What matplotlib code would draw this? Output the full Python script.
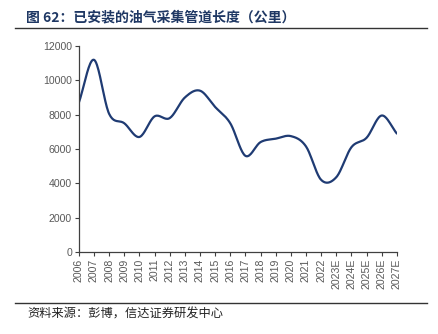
import numpy as np
import matplotlib
matplotlib.use("Agg")
import matplotlib.pyplot as plt
from matplotlib.lines import Line2D

years = ["2006", "2007", "2008", "2009", "2010", "2011", "2012", "2013",
         "2014", "2015", "2016", "2017", "2018", "2019", "2020", "2021",
         "2022", "2023E", "2024E", "2025E", "2026E", "2027E"]
length_km = [8700, 11200, 8050, 7500, 6700, 7900, 7800, 9000,
             9400, 8450, 7500, 5600, 6400, 6600, 6750, 6150,
             4200, 4350, 6100, 6650, 7950, 6900]

TITLE = "图 62：已安装的油气采集管道长度（公里）"
SOURCE = "资料来源：彭博，信达证券研发中心"
NAVY = "#1F3B73"


def smooth(xs, ys, n=20):
    """Catmull-Rom through the points, like Excel's smoothed line."""
    xs = np.asarray(xs, float)
    ys = np.asarray(ys, float)
    px = np.concatenate([[2 * xs[0] - xs[1]], xs, [2 * xs[-1] - xs[-2]]])
    py = np.concatenate([[2 * ys[0] - ys[1]], ys, [2 * ys[-1] - ys[-2]]])
    outx, outy = [], []
    t = np.linspace(0, 1, n, endpoint=False)
    for i in range(1, len(px) - 2):
        for p, out in ((px, outx), (py, outy)):
            p0, p1, p2, p3 = p[i - 1], p[i], p[i + 1], p[i + 2]
            out.extend(0.5 * (2 * p1 + (-p0 + p2) * t
                              + (2 * p0 - 5 * p1 + 4 * p2 - p3) * t ** 2
                              + (-p0 + 3 * p1 - 3 * p2 + p3) * t ** 3))
    outx.append(xs[-1])
    outy.append(ys[-1])
    return np.array(outx), np.array(outy)


plt.rcParams["font.family"] = ["Liberation Sans", "Noto Sans CJK SC"]

fig = plt.figure(figsize=(4.38, 3.34), dpi=100)
ax = fig.add_axes([0.180, 0.246, 0.726, 0.616])

x = np.arange(len(years))
sx, sy = smooth(x, length_km)
ax.plot(sx, sy, color=NAVY, lw=1.6, solid_capstyle="round")

ax.set_xlim(0, len(years) - 1)
ax.set_ylim(0, 12000)
ax.set_yticks(range(0, 12001, 2000))
ax.set_xticks(x)
ax.set_xticklabels(years, rotation=90)
ax.tick_params(axis="both", labelsize=7.6, labelcolor="#595959",
               color="#404040", length=3, width=0.8, direction="out", pad=2)
for s in ("top", "right"):
    ax.spines[s].set_visible(False)
for s in ("left", "bottom"):
    ax.spines[s].set_color("#404040")
    ax.spines[s].set_linewidth(0.9)

fig.text(26 / 438, 1 - 17 / 334, TITLE, fontsize=10, fontweight="bold",
         color="#1F3864", va="center", ha="left",
         family=["Noto Sans CJK SC", "DejaVu Sans"])
fig.add_artist(Line2D([15 / 438, 427 / 438], [1 - 28 / 334] * 2,
                      color="#333333", lw=1.0))
fig.add_artist(Line2D([15 / 438, 427 / 438], [1 - 303 / 334] * 2,
                      color="#333333", lw=1.0))
fig.text(27 / 438, 1 - 314 / 334, SOURCE, fontsize=8.8, style="italic",
         color="#222222", va="center", ha="left",
         family=["Noto Sans CJK SC", "DejaVu Sans"])

fig.savefig("out.png", dpi=100)
